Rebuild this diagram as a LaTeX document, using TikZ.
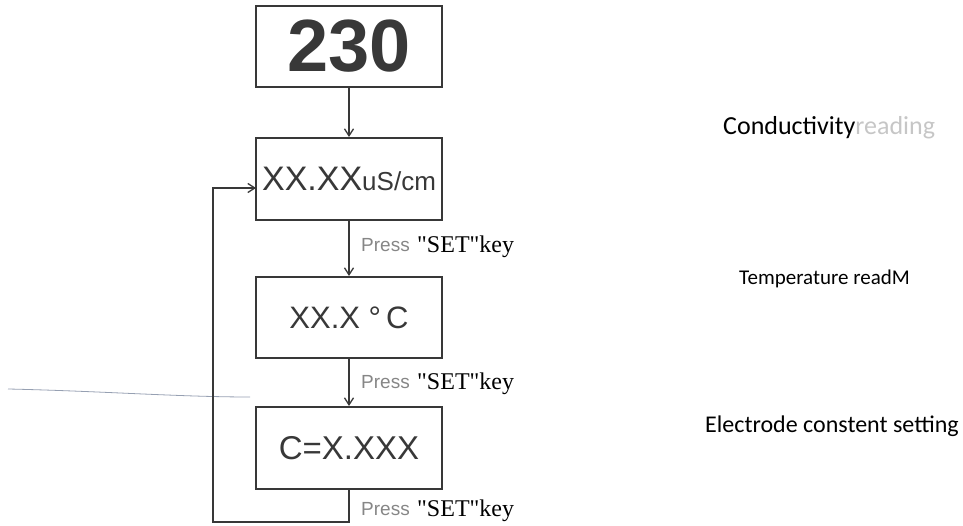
\documentclass[tikz,border=0pt]{standalone}
\usepackage{fontspec}
\setmainfont{Liberation Serif}
\newfontfamily\lcdfont{Liberation Sans}
\newfontfamily\notefont{Carlito}
\usetikzlibrary{arrows.meta}
\definecolor{ink}{gray}{0.22}
\definecolor{scanline}{RGB}{150,160,178}
\tikzset{
  panel/.style={draw=ink, line width=2pt, minimum width=186pt, minimum height=81pt, inner sep=0pt, text=ink},
  flow/.style={draw=ink, line width=1.3pt, -{Straight Barb[length=7pt,width=9pt]}},
  press/.style={anchor=base west, inner sep=0pt, text=gray!95, font=\lcdfont\fontsize{19}{19}\selectfont},
  setkey/.style={anchor=base west, inner sep=0pt, font=\fontsize{24}{24}\selectfont},
  note/.style={anchor=base west, inner sep=0pt, font=\notefont\fontsize{26}{26}\selectfont}
}
\begin{document}
\begin{tikzpicture}[x=1pt, y=-1pt]
  \useasboundingbox (0,0) rectangle (963,526);

  \draw[scanline, line width=0.8pt] (8,389) .. controls (100,391) and (180,397) .. (250,397);

  \node[panel, font=\lcdfont\bfseries\fontsize{74}{74}\selectfont] (init) at (349,46.5) {230};
  \node[panel, minimum height=82pt, font=\lcdfont\fontsize{34}{34}\selectfont] (cond) at (349,179) {XX.XX{\fontsize{26}{26}\selectfont uS/cm}};
  \node[panel, font=\lcdfont\fontsize{31}{31}\selectfont] (temp) at (349,317.5) {XX.X °\,C};
  \node[panel, minimum height=82pt, font=\lcdfont\fontsize{33}{33}\selectfont] (elec) at (349,448) {C=X.XXX};

  \draw[flow] (init) -- (cond);
  \draw[flow] (cond) -- (temp);
  \draw[flow] (temp) -- (elec);

  \coordinate (loopbot) at (213,522);
  \coordinate (loopin) at (256,188);
  \draw[flow] (elec.south) |- (loopbot) |- (loopin);

  \node[press] (press1) at (361,252) {Press};
  \node[setkey] (key1) at (417,253) {\textquotedbl SET\textquotedbl key};
  \node[press] (press2) at (361,388) {Press};
  \node[setkey] (key2) at (417,389) {\textquotedbl SET\textquotedbl key};
  \node[press] (press3) at (361,515) {Press};
  \node[setkey] (key3) at (417,516) {\textquotedbl SET\textquotedbl key};

  \node[note] (condnote) at (723,135) {Conductivity{\color{gray!45}reading}};
  \node[note, font=\notefont\fontsize{21}{21}\selectfont] (tempnote) at (739,285) {Temperature readM};
  \node[note, font=\notefont\fontsize{24}{24}\selectfont] (elecnote) at (705,432) {Electrode constent setting};
\end{tikzpicture}
\end{document}
